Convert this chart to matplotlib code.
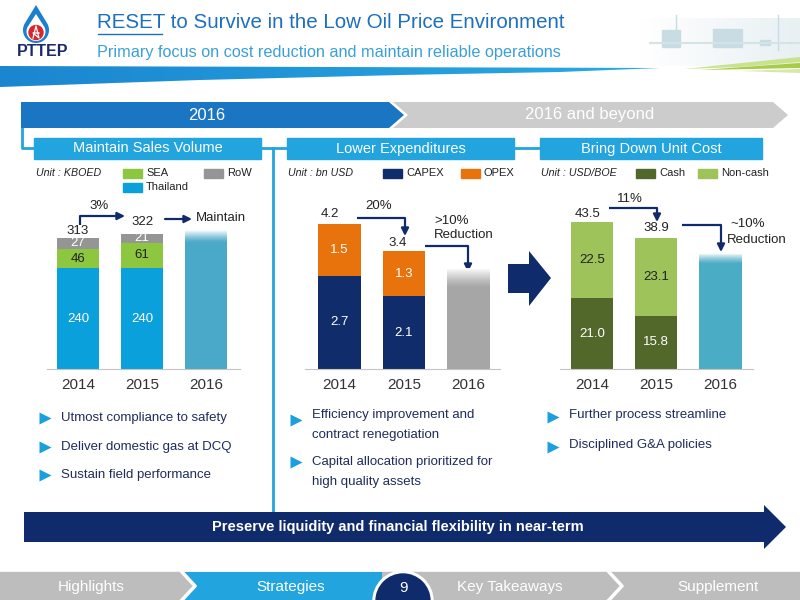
import numpy as np
import matplotlib.pyplot as plt
from matplotlib.patches import Polygon, Rectangle, Circle
from matplotlib.colors import to_rgb

plt.rcParams['font.family'] = ['Liberation Sans', 'DejaVu Sans']

years = ['2014', '2015', '2016']

# Maintain Sales Volume (KBOED)
thailand = [240, 240]
sea = [46, 61]
row = [27, 21]
sales_totals = [313, 322]
sales_2016 = 330

# Lower Expenditures (bn USD)
capex = [2.7, 2.1]
opex = [1.5, 1.3]
spend_totals = [4.2, 3.4]
spend_2016 = 2.9

# Bring Down Unit Cost (USD/BOE)
cash = [21.0, 15.8]
noncash = [22.5, 23.1]
cost_totals = [43.5, 38.9]
cost_2016 = 34

NAVY = '#0f2b6b'
BLUE = '#1a75c2'
LBLUE = '#22a4de'
TXT = '#1f2c5c'
DARK = '#222222'

fig = plt.figure(figsize=(8, 6), dpi=100)
bg = fig.add_axes([0, 0, 1, 1])
bg.set_xlim(0, 800)
bg.set_ylim(600, 0)
bg.axis('off')


def poly(pts, color, z=1, **kw):
    p = Polygon(pts, closed=True, facecolor=color, edgecolor='none', zorder=z, **kw)
    bg.add_patch(p)
    return p


def gradient(pts, c1, c2, extent, z=1):
    clip = poly(pts, 'none', z)
    a, b = np.array(to_rgb(c1)), np.array(to_rgb(c2))
    t = np.linspace(0, 1, 256)[None, :, None]
    img = a + (b - a) * t
    im = bg.imshow(img, extent=extent, aspect='auto', zorder=z)
    im.set_clip_path(clip)


def elbow(pts, color=NAVY):
    xs, ys = zip(*pts[:-1])
    bg.plot(xs, ys, color=color, lw=1.6, zorder=5, solid_capstyle='butt')
    bg.annotate('', xy=pts[-1], xytext=pts[-2],
                arrowprops=dict(arrowstyle='-|>', color=color, lw=1.6,
                                mutation_scale=11, shrinkA=0, shrinkB=0), zorder=5)


# ---- header: logo, title, swoosh
t = np.radians(np.linspace(-31.3, 211.3, 60))
drop = [(36, 5)] + list(zip(36 + 13 * np.cos(t), 30 + 13 * np.sin(t)))
poly(drop, '#1d7fd0', 2)
drop2 = [(36, 14)] + list(zip(36 + 9.5 * np.cos(t), 31.5 + 9.5 * np.sin(t)))
poly(drop2, 'white', 3)
bg.add_patch(Circle((36, 32.5), 7, color='#d8262e', zorder=4))
bg.plot([33, 36, 39, 33, 39], [38, 26, 38, 33, 33], color='white', lw=0.9, zorder=5)
bg.text(43, 52, 'PTTEP', ha='center', va='center', fontsize=11.5,
        fontweight='bold', color='#1c2a6b')

bg.text(97, 23, 'RESET to Survive in the Low Oil Price Environment', ha='left',
        va='center', fontsize=14.8, color='#1d6fbf')
bg.plot([98, 162], [33.5, 33.5], color='#1d6fbf', lw=1)
bg.text(97, 52, 'Primary focus on cost reduction and maintain reliable operations',
        ha='left', va='center', fontsize=11.7, color='#3aa0d8')

# faint offshore picture
gradient([(640, 18), (800, 18), (800, 66), (640, 66)], '#ffffff', '#e8f0f3',
         [640, 800, 66, 18], 1)
for x0, x1, y0, y1 in [(662, 680, 30, 47), (713, 742, 29, 47), (760, 770, 40, 45)]:
    bg.add_patch(Rectangle((x0, y0), x1 - x0, y1 - y0, color='#c8dce3', zorder=2))
bg.plot([676, 676], [15, 46], color='#c8dce3', lw=1, zorder=2)
bg.plot([778, 778], [15, 50], color='#c8dce3', lw=1, zorder=2)
bg.plot([650, 800], [43, 43], color='#d3e3e8', lw=1.5, zorder=2)

band = [(0, 66), (660, 68), (560, 72), (400, 75), (200, 80), (0, 87)]
gradient(band, '#1b86d0', '#2aaae3', [0, 660, 88, 65], 2)
poly([(684, 69), (800, 57), (800, 62), (740, 67)], '#c9e28c', 2)
poly([(700, 70), (800, 63), (800, 68)], '#a6cd48', 2)
poly([(740, 71), (800, 69), (800, 73)], '#d6e9a8', 2)

# ---- 2016 / 2016 and beyond banner
poly([(21, 102), (389, 102), (404, 115), (389, 128), (21, 128)], BLUE, 2)
poly([(393, 102), (773, 102), (788, 115), (773, 128), (393, 128), (408, 115)],
     '#cccccc', 2)
bg.text(207, 115, '2016', ha='center', va='center', fontsize=12, color='white', zorder=3)
bg.text(590, 115, '2016 and beyond', ha='center', va='center', fontsize=12,
        color='white', zorder=3)

bg.plot([22, 22, 34], [128, 148, 148], color=LBLUE, lw=2, zorder=1)
bg.plot([261, 287], [148, 148], color=LBLUE, lw=2, zorder=1)
bg.plot([514, 540], [148, 148], color=LBLUE, lw=2, zorder=1)
bg.plot([273, 273], [148, 512], color=LBLUE, lw=2, zorder=1)

headers = ['Maintain Sales Volume', 'Lower Expenditures', 'Bring Down Unit Cost']
for (x0, x1), h in zip([(34, 261), (287, 514), (540, 762)], headers):
    bg.add_patch(Rectangle((x0, 138), x1 - x0, 21, color=LBLUE, zorder=2))
    bg.text((x0 + x1) / 2, 148.5, h, ha='center', va='center', fontsize=10.5,
            color='white', zorder=3)

# units + legends
c_thai, c_sea, c_row = '#0aa0dc', '#8dc63f', '#959595'
c_capex, c_opex = '#112c6a', '#e8720c'
c_cash, c_non = '#51682a', '#9dc35a'
units = [(36, 'Unit : KBOED'), (288, 'Unit : bn USD'), (541, 'Unit : USD/BOE')]
for x, u in units:
    bg.text(x, 173.5, u, ha='left', va='center', fontsize=7.7, style='italic', color=DARK)
legend = [(123, 169, c_sea, 'SEA'), (204, 169, c_row, 'RoW'), (123, 183, c_thai, 'Thailand'),
          (383, 169, c_capex, 'CAPEX'), (461, 169, c_opex, 'OPEX'),
          (636, 169, c_cash, 'Cash'), (698, 169, c_non, 'Non-cash')]
for x, y, c, lab in legend:
    bg.add_patch(Rectangle((x, y), 19, 9, color=c, zorder=2))
    bg.text(x + 23, y + 4.5, lab, ha='left', va='center', fontsize=8, color=DARK)


# ---- bar charts
def chart(x0, x1, xlim, ylim):
    ax = fig.add_axes([x0 / 800, (600 - 369) / 600, (x1 - x0) / 800, 170 / 600])
    ax.patch.set_alpha(0)
    for s in ['top', 'right', 'left']:
        ax.spines[s].set_visible(False)
    ax.spines['bottom'].set_color('#c4c4c4')
    ax.set_yticks([])
    ax.set_xticks(range(3))
    ax.set_xticklabels(years, fontsize=11, color='#333333')
    ax.tick_params(axis='x', length=0, pad=6.5)
    ax.set_xlim(*xlim)
    ax.set_ylim(*ylim)
    return ax


def fade(ax, x, top, depth, w):
    img = np.ones((64, 1, 4))
    img[:, 0, 3] = np.linspace(1, 0, 64) ** 1.3
    ax.imshow(img, extent=[x - w / 2, x + w / 2, top - depth, top], aspect='auto', zorder=3)


W = 0.656
x = np.arange(2)

ax1 = chart(47, 240, (-0.484, 2.53), (0, 404.8))
ax1.bar(x, thailand, W, color=c_thai)
ax1.bar(x, sea, W, bottom=thailand, color=c_sea)
ax1.bar(x, row, W, bottom=np.add(thailand, sea), color=c_row)
ax1.bar(2, sales_2016, W, color='#4aa8c8')
fade(ax1, 2, sales_2016, 30, W)
for i in range(2):
    ax1.text(i, thailand[i] / 2, str(thailand[i]), ha='center', va='center', fontsize=9.5, color='white')
    ax1.text(i, thailand[i] + sea[i] / 2, str(sea[i]), ha='center', va='center', fontsize=9.5, color=DARK)
    ax1.text(i, thailand[i] + sea[i] + row[i] / 2, str(row[i]), ha='center', va='center',
             fontsize=9.5, color='white')
ax1.annotate(str(sales_totals[0]), (0, sales_totals[0]), xytext=(0, 5), textcoords='offset points',
             ha='center', va='center', fontsize=9.5, color=DARK)
ax1.annotate(str(sales_totals[1]), (1, sales_totals[1]), xytext=(0, 8.6), textcoords='offset points',
             ha='center', va='center', fontsize=9.5, color=DARK)
ax1.set_xlim(-0.484, 2.53)
ax1.set_ylim(0, 404.8)

ax2 = chart(305, 500, (-0.535, 2.49), (0, 4.913))
ax2.bar(x, capex, W, color=c_capex)
ax2.bar(x, opex, W, bottom=capex, color=c_opex)
ax2.bar(2, spend_2016, W, color='#a6a6a6')
fade(ax2, 2, spend_2016, 0.55, W)
for i in range(2):
    ax2.text(i, capex[i] / 2, f'{capex[i]:.1f}', ha='center', va='center', fontsize=9.5, color='white')
    ax2.text(i, capex[i] + opex[i] / 2, f'{opex[i]:.1f}', ha='center', va='center',
             fontsize=9.5, color='white')
ax2.annotate(f'{spend_totals[0]:.1f}', (0, spend_totals[0]), xytext=(-7, 7.2),
             textcoords='offset points', ha='center', va='center', fontsize=9.5, color=DARK)
ax2.annotate(f'{spend_totals[1]:.1f}', (1, spend_totals[1]), xytext=(-4.3, 5.8),
             textcoords='offset points', ha='center', va='center', fontsize=9.5, color=DARK)
ax2.set_xlim(-0.535, 2.49)
ax2.set_ylim(0, 4.913)

ax3 = chart(560, 753, (-0.498, 2.506), (0, 50.3))
ax3.bar(x, cash, W, color=c_cash)
ax3.bar(x, noncash, W, bottom=cash, color=c_non)
ax3.bar(2, cost_2016, W, color='#4bacc6')
fade(ax3, 2, cost_2016, 3, W)
for i in range(2):
    ax3.text(i, cash[i] / 2, f'{cash[i]:.1f}', ha='center', va='center', fontsize=9.5, color='white')
    ax3.text(i, cash[i] + noncash[i] / 2, f'{noncash[i]:.1f}', ha='center', va='center',
             fontsize=9.5, color=DARK)
ax3.annotate(f'{cost_totals[0]:.1f}', (0, cost_totals[0]), xytext=(-3, 5.8),
             textcoords='offset points', ha='center', va='center', fontsize=9.5, color=DARK)
ax3.annotate(f'{cost_totals[1]:.1f}', (1, cost_totals[1]), xytext=(0, 7.2),
             textcoords='offset points', ha='center', va='center', fontsize=9.5, color=DARK)
ax3.set_xlim(-0.498, 2.506)
ax3.set_ylim(0, 50.3)

# change arrows and notes
elbow([(80, 225), (80, 216), (125, 216)])
bg.text(99, 206, '3%', ha='center', va='center', fontsize=9.5, color=DARK)
elbow([(165, 219), (192, 219)])
bg.text(196, 218, 'Maintain', ha='left', va='center', fontsize=9.5, color=DARK)

elbow([(357, 218), (405, 218), (405, 236)])
bg.text(379, 206, '20%', ha='center', va='center', fontsize=9.5, color=DARK)
elbow([(425, 246), (468, 246), (468, 272)])
bg.text(434, 221, '>10%', ha='left', va='center', fontsize=9.5, color=DARK)
bg.text(434, 235, 'Reduction', ha='left', va='center', fontsize=9.5, color=DARK)

elbow([(609, 208), (657, 208), (657, 222)])
bg.text(630, 199, '11%', ha='center', va='center', fontsize=9.5, color=DARK)
elbow([(682, 225), (721, 225), (721, 252)])
bg.text(730, 224, '~10%', ha='left', va='center', fontsize=9.5, color=DARK)
bg.text(727, 240, 'Reduction', ha='left', va='center', fontsize=9.5, color=DARK)

poly([(508, 264), (529, 264), (529, 251), (551, 278), (529, 306), (529, 293), (508, 293)], NAVY, 2)

# ---- bullet points: (marker y, first text line y, lines)
bullets = [
    (45, 61, [(418, 418, ['Utmost compliance to safety']),
              (447, 447, ['Deliver domestic gas at DCQ']),
              (475, 475, ['Sustain field performance'])]),
    (296, 312, [(420, 415, ['Efficiency improvement and', 'contract renegotiation']),
                (462, 462, ['Capital allocation prioritized for', 'high quality assets'])]),
    (553, 569, [(417, 415, ['Further process streamline']),
                (447, 445, ['Disciplined G&A policies'])]),
]
for xm, xt, items in bullets:
    for ym, yt, lines in items:
        bg.plot(xm, ym, marker='>', ms=9, color='#1aa0de', mec='none')
        for k, s in enumerate(lines):
            bg.text(xt, yt + 20 * k, s, ha='left', va='center', fontsize=9.5, color=TXT)

# ---- bottom arrow
poly([(24, 512), (764, 512), (764, 505), (786, 527), (764, 549), (764, 542), (24, 542)], NAVY, 2)
bg.text(398, 527, 'Preserve liquidity and financial flexibility in near-term', ha='center',
        va='center', fontsize=10.5, fontweight='bold', color='white', zorder=3)

# ---- footer
bg.add_patch(Rectangle((0, 572), 800, 28, color='#bdbdbd', zorder=2))
poly([(184, 572), (382, 572), (382, 600), (184, 600), (197, 586)], LBLUE, 3)
for xc in [182, 609]:
    bg.plot([xc, xc + 13, xc], [572, 586, 600], color='white', lw=2.5, zorder=4)
bg.add_patch(Circle((403, 601), 30, color='white', zorder=5))
bg.add_patch(Circle((403, 601), 27, color=NAVY, zorder=6))
for xc, s in [(91, 'Highlights'), (291, 'Strategies'), (510, 'Key Takeaways'), (718, 'Supplement')]:
    bg.text(xc, 587, s, ha='center', va='center', fontsize=11, color='white', zorder=7)
bg.text(403, 588, '9', ha='center', va='center', fontsize=11, color='white', zorder=7)

bg.set_xlim(0, 800)
bg.set_ylim(600, 0)
fig.savefig('out.png', dpi=100)
